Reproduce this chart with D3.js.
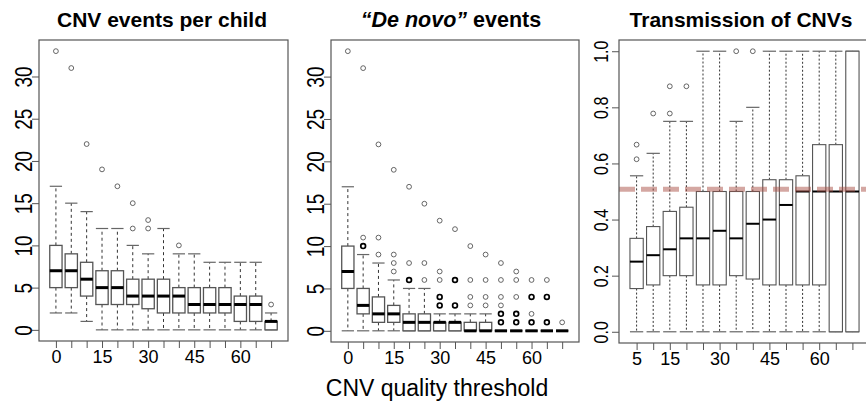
<!DOCTYPE html>
<html>
<head>
<meta charset="utf-8">
<script src="https://cdn.jsdelivr.net/npm/d3@7/dist/d3.min.js"></script>
<style>
body { margin: 0; background: #fff; }
text { font-family: "Liberation Sans", Arial, Helvetica, sans-serif; fill: #000; }
</style>
</head>
<body>
<svg id="chart" width="866" height="410"></svg>
<script>
// thresholds for the first two panels and for the transmission panel
const thresholds = [0, 5, 10, 15, 20, 25, 30, 35, 40, 45, 50, 55, 60, 65, 70];
const thresholds3 = [5, 10, 15, 20, 25, 30, 35, 40, 45, 50, 55, 60, 65, 70];

// CNV events per child
const allLow  = [2, 2, 1, 0, 0, 0, 0, 0, 0, 0, 0, 0, 0, 0, 0];
const allQ1   = [5, 5, 4, 3, 3, 3, 2.5, 2, 2, 2, 2, 2, 1, 1, 0];
const allMed  = [7, 7, 6, 5, 5, 4, 4, 4, 4, 3, 3, 3, 3, 3, 1];
const allQ3   = [10, 9, 8, 7, 7, 6, 6, 6, 5, 5, 5, 5, 4, 4, 1];
const allHigh = [17, 15, 14, 12, 12, 10, 9, 12, 9, 9, 8, 8, 8, 8, 2];
const allOut  = [[33], [31], [22], [19], [17], [15, 12], [13, 12], [], [10], [], [], [], [], [], [3]];

// "De novo" events (repeated values are overplotted points)
const dnLow  = [0, 0, 0, 0, 0, 0, 0, 0, 0, 0, 0, 0, 0, 0, 0];
const dnQ1   = [5, 2, 1, 1, 0, 0, 0, 0, 0, 0, 0, 0, 0, 0, 0];
const dnMed  = [7, 3, 2, 2, 1, 1, 1, 1, 0, 0, 0, 0, 0, 0, 0];
const dnQ3   = [10, 5, 4, 3, 2, 2, 1, 1, 1, 1, 0, 0, 0, 0, 0];
const dnHigh = [17, 9, 8, 6, 5, 5, 2, 2, 2, 2, 0, 0, 0, 0, 0];
const dnOut  = [[33], [31, 11, 10, 10], [22, 11, 9], [19, 9, 8, 7], [17, 8, 6, 6], [15, 8, 6],
                [13, 7, 6, 4, 4, 3, 3], [12, 6, 6, 3, 3], [10, 6, 4, 3], [9, 6, 4, 3],
                [8, 6, 4, 3, 2, 2, 1, 1], [7, 6, 4, 2, 2, 1, 1], [6, 4, 4, 2, 1, 1], [6, 4, 4, 1, 1], [1]];

// Transmission of CNVs
const trLow  = [0, 0, 0, 0, 0, 0, 0, 0, 0, 0, 0, 0, 0, 0];
const trQ1   = [0.154, 0.167, 0.2, 0.2, 0.167, 0.167, 0.2, 0.188, 0.167, 0.167, 0.167, 0.167, 0, 0];
const trMed  = [0.25, 0.273, 0.294, 0.333, 0.333, 0.36, 0.333, 0.385, 0.4, 0.452, 0.5, 0.5, 0.5, 0.5];
const trQ3   = [0.333, 0.375, 0.429, 0.444, 0.5, 0.5, 0.5, 0.5, 0.542, 0.542, 0.556, 0.667, 0.667, 1];
const trHigh = [0.556, 0.636, 0.75, 0.75, 1, 1, 0.75, 0.8, 1, 1, 1, 1, 1, 1];
const trOut  = [[0.615, 0.667], [0.778], [0.778, 0.875], [0.875], [], [], [1], [1], [], [], [], [], [], []];
const trExpected = 0.508;

const yTicks12 = [0, 5, 10, 15, 20, 25, 30];
const yTicks3 = [0, 0.2, 0.4, 0.6, 0.8, 1.0];
const xLabels12 = [0, 15, 30, 45, 60];
const xLabels3 = [5, 15, 30, 45, 60];

const svg = d3.select("#chart");

function panel(o) {
  const n = o.cats.length;
  const ext = 0.04 * n;
  const x = d3.scaleLinear().domain([0.5 - ext, n + 0.5 + ext]).range([o.left, o.right]);
  const yr = o.ymax - o.ymin;
  const y = d3.scaleLinear().domain([o.ymin - 0.04 * yr, o.ymax + 0.04 * yr]).range([o.bottom, o.top]);
  const bw = 0.8 * (x(2) - x(1));
  const g = svg.append("g");

  const rows = o.cats.map((c, i) => ({
    c: c, pos: i + 1, lo: o.low[i], q1: o.q1[i], med: o.med[i], q3: o.q3[i], hi: o.high[i], out: o.out[i]
  }));

  const box = g.selectAll("g.box").data(rows).enter().append("g").attr("class", "box");

  // whiskers
  box.append("line")
    .attr("x1", d => x(d.pos)).attr("x2", d => x(d.pos))
    .attr("y1", d => y(d.q3)).attr("y2", d => y(d.hi))
    .attr("stroke", "#333").attr("stroke-width", 1).attr("stroke-dasharray", o.dash);
  box.append("line")
    .attr("x1", d => x(d.pos)).attr("x2", d => x(d.pos))
    .attr("y1", d => y(d.q1)).attr("y2", d => y(d.lo))
    .attr("stroke", "#333").attr("stroke-width", 1).attr("stroke-dasharray", o.dash);
  // staples
  ["hi", "lo"].forEach(k => {
    box.append("line")
      .attr("x1", d => x(d.pos) - bw / 2).attr("x2", d => x(d.pos) + bw / 2)
      .attr("y1", d => y(d[k])).attr("y2", d => y(d[k]))
      .attr("stroke", "#666").attr("stroke-width", 1.2);
  });
  // boxes
  box.append("rect")
    .attr("x", d => x(d.pos) - bw / 2).attr("width", bw)
    .attr("y", d => y(d.q3)).attr("height", d => Math.max(0, y(d.q1) - y(d.q3)))
    .attr("fill", "#fff").attr("stroke", "#555").attr("stroke-width", o.boxW);
  // medians
  box.append("line")
    .attr("x1", d => x(d.pos) - bw / 2).attr("x2", d => x(d.pos) + bw / 2)
    .attr("y1", d => y(d.med)).attr("y2", d => y(d.med))
    .attr("stroke", "#000").attr("stroke-width", o.medW);
  // outliers, overplotted ones drawn bolder
  box.each(function (d) {
    const counts = d3.rollups(d.out, v => v.length, v => v);
    d3.select(this).selectAll("circle").data(counts).enter().append("circle")
      .attr("cx", x(d.pos)).attr("cy", c => y(c[0])).attr("r", 2.4)
      .attr("fill", "none")
      .attr("stroke", c => c[1] > 1 ? "#000" : "#555")
      .attr("stroke-width", c => c[1] > 1 ? 1.7 : 0.9);
  });

  if (o.refLine !== undefined) {
    g.append("line")
      .attr("x1", o.left).attr("x2", o.right)
      .attr("y1", y(o.refLine)).attr("y2", y(o.refLine))
      .attr("stroke", "rgb(170,80,70)").attr("stroke-opacity", 0.5)
      .attr("stroke-width", 5).attr("stroke-dasharray", "16,6");
  }

  // frame
  g.append("rect")
    .attr("x", o.left).attr("y", o.top)
    .attr("width", o.right - o.left).attr("height", o.bottom - o.top)
    .attr("fill", "none").attr("stroke", "#555").attr("stroke-width", 1.2);

  // x axis: ticks at every box, labels where R kept them
  const xa = d3.axisBottom(x)
    .tickValues(rows.map(d => d.pos))
    .tickSize(7).tickPadding(2)
    .tickFormat(p => o.xLabels.includes(o.cats[p - 1]) ? o.cats[p - 1] : "");
  const gx = g.append("g").attr("transform", `translate(0,${o.bottom})`).call(xa);
  gx.select(".domain").remove();
  gx.selectAll("line").attr("stroke", "#555");
  gx.selectAll("text").attr("font-size", 18).attr("font-family", "Liberation Sans, Arial, sans-serif").attr("fill", "#000");

  // y axis with rotated (tall) labels
  const ya = d3.axisLeft(y).tickValues(o.yTicks).tickSize(7).tickFormat(o.yFmt);
  const gy = g.append("g").attr("transform", `translate(${o.left},0)`).call(ya);
  gy.select(".domain").remove();
  gy.selectAll("line").attr("stroke", "#555");
  gy.selectAll("text")
    .attr("font-size", o.yFont).attr("font-family", "Liberation Sans, Arial, sans-serif").attr("fill", "#000")
    .attr("x", 0).attr("dy", 0).attr("text-anchor", "middle")
    .attr("transform", `translate(${-o.labOff},0) rotate(-90) scale(1,1.3)`);

  // title
  const t = g.append("text")
    .attr("x", o.titleX).attr("y", 27)
    .attr("text-anchor", "middle").attr("font-size", o.titleFont).attr("font-weight", "bold");
  o.title.forEach(part => t.append("tspan").attr("font-style", part[1] ? "italic" : "normal").text(part[0]));
}

panel({
  cats: thresholds, low: allLow, q1: allQ1, med: allMed, q3: allQ3, high: allHigh, out: allOut,
  left: 39, right: 288, top: 40, bottom: 341, ymin: 0, ymax: 33,
  yTicks: yTicks12, yFmt: d3.format("d"), xLabels: xLabels12, labOff: 7, yFont: 19,
  dash: "3,3", boxW: 1.3, medW: 3, titleX: 162, titleFont: 21,
  title: [["CNV events per child", false]]
});

panel({
  cats: thresholds, low: dnLow, q1: dnQ1, med: dnMed, q3: dnQ3, high: dnHigh, out: dnOut,
  left: 331, right: 579, top: 40, bottom: 342, ymin: 0, ymax: 33,
  yTicks: yTicks12, yFmt: d3.format("d"), xLabels: xLabels12, labOff: 7, yFont: 19,
  dash: "3,3", boxW: 1.3, medW: 3, titleX: 451, titleFont: 21.5,
  title: [["\u201cDe novo\u201d", true], [" events", false]]
});

panel({
  cats: thresholds3, low: trLow, q1: trQ1, med: trMed, q3: trQ3, high: trHigh, out: trOut,
  left: 619, right: 870, top: 40, bottom: 343, ymin: 0, ymax: 1,
  yTicks: yTicks3, yFmt: d3.format(".1f"), xLabels: xLabels3, labOff: 11, yFont: 16,
  dash: "2,2", boxW: 1.1, medW: 2, titleX: 741, titleFont: 21,
  refLine: trExpected,
  title: [["Transmission of CNVs", false]]
});

svg.append("text")
  .attr("x", 437).attr("y", 396)
  .attr("text-anchor", "middle").attr("font-size", 23)
  .text("CNV quality threshold");
</script>
</body>
</html>
